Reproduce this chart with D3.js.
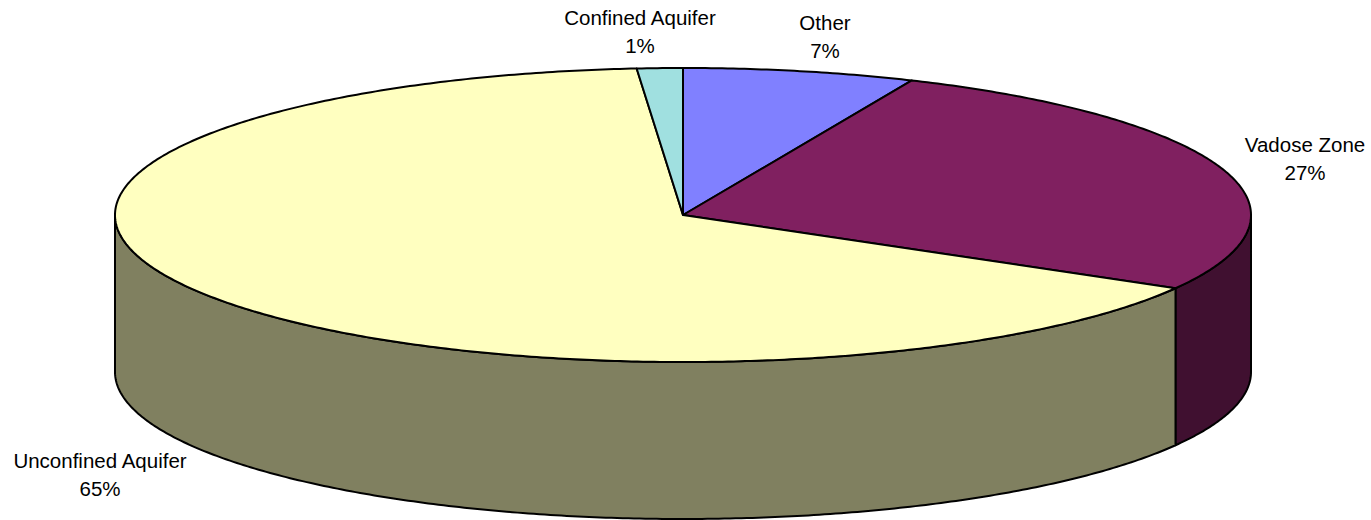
<!DOCTYPE html>
<html><head><meta charset="utf-8">
<script src="https://cdn.jsdelivr.net/npm/d3@7"></script>
<style>body{margin:0;background:#fff}svg{display:block}</style>
</head><body>
<svg id="c" width="1371" height="520"></svg>
<script>
const categories = ["Other", "Vadose Zone", "Unconfined Aquifer", "Confined Aquifer"];
const values = [6.6, 26.7, 65.4, 1.3];
const labels = ["7%", "27%", "65%", "1%"];
const topColors = ["#8080FF", "#802060", "#FFFFC0", "#A0E0E0"];
const sideColors = ["#404080", "#401030", "#808060", "#507070"];

const W = 1371, H = 520;
const cx = 683, cy = 215, rx = 568, ry = 147, depth = 157;
const svg = d3.select("#c");

const pie = d3.pie().sort(null).value(d => d).startAngle(0).endAngle(2 * Math.PI);
const arcs = pie(values);
const px = t => cx + rx * Math.sin(t);
const py = t => cy - ry * Math.cos(t);

function arcPts(a0, a1, dy) {
  const n = Math.max(2, Math.ceil(Math.abs(a1 - a0) / 0.01));
  const s = d3.scaleLinear().domain([0, n]).range([a0, a1]);
  return d3.range(n + 1).map(i => [px(s(i)), py(s(i)) + dy]);
}
const line = d3.line();

// side walls (front half: PI/2 .. 3PI/2)
arcs.forEach((a, i) => {
  const s0 = Math.max(a.startAngle, Math.PI / 2);
  const s1 = Math.min(a.endAngle, 3 * Math.PI / 2);
  if (s1 <= s0) return;
  const pts = arcPts(s0, s1, 0).concat(arcPts(s1, s0, depth));
  svg.append("path").attr("d", line(pts) + "Z")
    .attr("fill", sideColors[i]).attr("stroke", "#000").attr("stroke-width", 2)
    .attr("stroke-linejoin", "round");
});

// top slices
arcs.forEach((a, i) => {
  const pts = [[cx, cy]].concat(arcPts(a.startAngle, a.endAngle, 0));
  svg.append("path").attr("d", line(pts) + "Z")
    .attr("fill", topColors[i]).attr("stroke", "#000").attr("stroke-width", 2)
    .attr("stroke-linejoin", "round");
});

// labels
const labelPos = [[825, 30], [1305, 152], [100, 468], [640, 25]];
arcs.forEach((a, i) => {
  const g = svg.append("text").attr("text-anchor", "middle")
    .attr("font-family", "Liberation Sans, Arial, sans-serif").attr("font-size", 20.5)
    .attr("fill", "#000");
  g.append("tspan").attr("x", labelPos[i][0]).attr("y", labelPos[i][1]).text(categories[i]);
  g.append("tspan").attr("x", labelPos[i][0]).attr("y", labelPos[i][1] + 28).text(labels[i]);
});
</script>
</body></html>
